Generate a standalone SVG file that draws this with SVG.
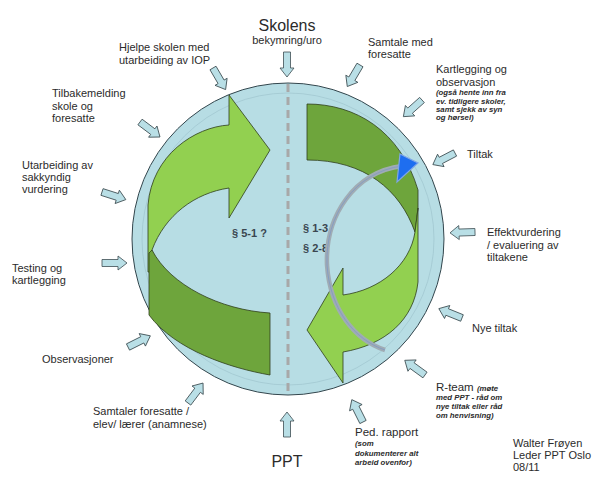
<svg xmlns="http://www.w3.org/2000/svg" xmlns:xlink="http://www.w3.org/1999/xlink" width="612" height="482" viewBox="0 0 612 482">
<defs>
<style>
text{font-family:"Liberation Sans",Arial,sans-serif;fill:#2b2b2b;font-size:11px}
.big{font-size:16px}
.sm{font-size:7.8px;font-style:italic;font-weight:bold}
.par{font-size:11px;font-weight:bold;fill:#3a4650}
.ba{fill:#b9dfe6;stroke:#3d4d52;stroke-width:0.8}
.lg{fill:#92d050;stroke:#2e3d1c;stroke-width:0.8}
.dg{fill:#6ea53c;stroke:#2e3d1c;stroke-width:0.8}
</style>
<path id="ba" d="M0,-3.5 H16 V-7 L25,0 L16,7 V3.5 H0 Z"/>
</defs>
<rect width="612" height="482" fill="#ffffff"/>
<g id="circle">
<circle cx="288" cy="239" r="156" fill="#b7dde4" stroke="#33464d" stroke-width="1"/>
<circle cx="288" cy="239" r="146" fill="#b7dde4" stroke="#a2c8d1" stroke-width="0.8"/>
<line x1="288" y1="84" x2="288" y2="395" stroke="#a8a8a8" stroke-width="3" stroke-dasharray="8 5"/>
</g>
<g id="left-cycle">
<path class="lg" d="M148,272 L148,205 C152,155 195,127 229,125 L229,95 L270,150 L229,218 L229,188 C195,193 165,215 152,250 L150,272 Z"/>
<path class="dg" d="M152,250 C170,285 220,310 270,313 L270,375 C230,368 175,350 149,315 L149,253 Z"/>
<text class="par" x="232" y="237">§ 5-1 ?</text>
</g>
<g id="right-cycle">
<path class="dg" d="M307,104 C355,104 400,130 418,190 L418,208 L415,232 C400,190 365,160 307,160 Z"/>
<path class="lg" d="M418,208 L418,282 C414,320 385,345 343,352 L343,383 L307,330 L343,268 L343,295 C380,290 410,265 415,232 Z"/>
<text class="par" x="303" y="232">§ 1-3</text>
<text class="par" x="303" y="252">§ 2-8</text>
<path d="M385,350 C355,340 330,310 327,265 C325,215 355,172 402,166" fill="none" stroke="#a0acb4" stroke-width="4.5"/>
<path d="M385,350 C355,340 330,310 327,265 C325,215 355,172 402,166" fill="none" stroke="#7f98c6" stroke-width="1" opacity="0.8"/>
<path d="M400,154 L418,163 L397,182 Z" fill="#1e6ef0" stroke="#7fa6e8" stroke-width="1.2"/>
</g>
<g id="connectors">
<use xlink:href="#ba" class="ba" transform="translate(287,52) rotate(90)"/>
<use xlink:href="#ba" class="ba" transform="translate(213,68) rotate(59.7)"/>
<use xlink:href="#ba" class="ba" transform="translate(140,122) rotate(36.9)"/>
<use xlink:href="#ba" class="ba" transform="translate(102,192) rotate(17.7)"/>
<use xlink:href="#ba" class="ba" transform="translate(102,263) rotate(0)"/>
<use xlink:href="#ba" class="ba" transform="translate(128,347) rotate(-26.6)"/>
<use xlink:href="#ba" class="ba" transform="translate(188,403) rotate(-53)"/>
<use xlink:href="#ba" class="ba" transform="translate(287,437) rotate(-90)"/>
<use xlink:href="#ba" class="ba" transform="translate(363,422) rotate(-116.6)"/>
<use xlink:href="#ba" class="ba" transform="translate(425,375) rotate(-144)"/>
<use xlink:href="#ba" class="ba" transform="translate(462,318) rotate(-158)"/>
<use xlink:href="#ba" class="ba" transform="translate(475,232) rotate(178)"/>
<use xlink:href="#ba" class="ba" transform="translate(455,153) rotate(152.4)"/>
<use xlink:href="#ba" class="ba" transform="translate(422,100) rotate(138.2)"/>
<use xlink:href="#ba" class="ba" transform="translate(360,65) rotate(120.6)"/>
</g>
<g id="skolens">
<text class="big" x="287" y="31" text-anchor="middle">Skolens</text>
<text x="287" y="44" text-anchor="middle">bekymring/uro</text>
</g>
<g id="hjelpe">
<text x="119" y="51">Hjelpe skolen med</text>
<text x="119" y="64">utarbeiding av IOP</text>
</g>
<g id="tilbakemelding">
<text x="52" y="97">Tilbakemelding</text>
<text x="52" y="109.5">skole og</text>
<text x="52" y="122">foresatte</text>
</g>
<g id="utarbeiding">
<text x="22" y="169">Utarbeiding av</text>
<text x="22" y="181">sakkyndig</text>
<text x="22" y="193">vurdering</text>
</g>
<g id="testing">
<text x="12" y="272">Testing og</text>
<text x="12" y="284">kartlegging</text>
</g>
<g id="observasjoner">
<text x="42" y="363">Observasjoner</text>
</g>
<g id="samtaler">
<text x="93" y="415">Samtaler foresatte /</text>
<text x="93" y="428">elev/ lærer (anamnese)</text>
</g>
<g id="ppt">
<text class="big" x="287" y="467" text-anchor="middle">PPT</text>
</g>
<g id="ped-rapport">
<text x="355" y="436" style="font-size:11.5px">Ped. rapport</text>
<text class="sm" x="355" y="446">(som</text>
<text class="sm" x="355" y="455.5">dokumenterer alt</text>
<text class="sm" x="355" y="465">arbeid ovenfor)</text>
</g>
<g id="r-team">
<text x="436" y="391" style="font-size:11.5px">R-team <tspan class="sm">(møte</tspan></text>
<text class="sm" x="436" y="400">med PPT - råd om</text>
<text class="sm" x="436" y="409">nye tiltak eller råd</text>
<text class="sm" x="436" y="418">om henvisning)</text>
</g>
<g id="signatur">
<text x="513" y="447">Walter Frøyen</text>
<text x="513" y="459">Leder PPT Oslo</text>
<text x="513" y="471">08/11</text>
</g>
<g id="nye-tiltak">
<text x="472" y="332">Nye tiltak</text>
</g>
<g id="effektvurdering">
<text x="487" y="236">Effektvurdering</text>
<text x="487" y="248.5">/ evaluering av</text>
<text x="487" y="261">tiltakene</text>
</g>
<g id="tiltak">
<text x="467" y="158">Tiltak</text>
</g>
<g id="kartlegging">
<text x="436" y="73">Kartlegging og</text>
<text x="436" y="86">observasjon</text>
<text class="sm" x="436" y="95">(også hente inn fra</text>
<text class="sm" x="436" y="103.5">ev. tidligere skoler,</text>
<text class="sm" x="436" y="112">samt sjekk av syn</text>
<text class="sm" x="436" y="120">og hørsel)</text>
</g>
<g id="samtale-med">
<text x="368" y="46">Samtale med</text>
<text x="368" y="58">foresatte</text>
</g>
</svg>
